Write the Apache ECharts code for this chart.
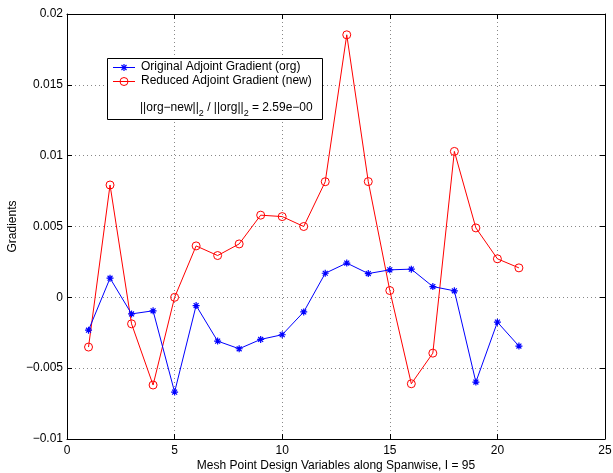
<!DOCTYPE html>
<html><head><meta charset="utf-8">
<script src="https://cdn.jsdelivr.net/npm/echarts@6/dist/echarts.min.js"></script>
<style>html,body{margin:0;padding:0;background:#fff}#c{width:613px;height:473px}</style>
</head><body><div id="c"></div>
<script>
const xIndex = [1,2,3,4,5,6,7,8,9,10,11,12,13,14,15,16,17,18,19,20,21];
const orgValues = [-0.00232,0.00135,-0.00117,-0.00095,-0.00669,-0.00058,-0.00309,-0.00363,-0.00297,-0.00264,-0.00103,0.00170,0.00242,0.00168,0.00194,0.00199,0.00076,0.00046,-0.00598,-0.00175,-0.00344];
const newValues = [-0.00351,0.00793,-0.00187,-0.00619,0.00000,0.00363,0.00295,0.00377,0.00580,0.00570,0.00500,0.00816,0.01853,0.00817,0.00048,-0.00610,-0.00394,0.01030,0.00490,0.00272,0.00208];
const yTickLabels = ['−0.01','−0.005','0','0.005','0.01','0.015','0.02'];
const xTickLabels = ['0','5','10','15','20','25'];
const seriesNames = ['Original Adjoint Gradient (org)','Reduced Adjoint Gradient (new)'];

const FONT = 'Liberation Sans, Arial, Helvetica, sans-serif';
const FS = 12;
const chart = echarts.init(document.getElementById('c'), null, {renderer:'canvas'});
const star = 'path://M0,5L10,5M5,0L5,10M1.5,1.5L8.5,8.5M1.5,8.5L8.5,1.5';
const gridLine = {show:true, lineStyle:{color:'#888', type:[1,3], width:1}};
const yLab = v => yTickLabels[Math.round((v + 0.01) / 0.005)];
const xLab = v => xTickLabels[Math.round(v / 5)];

function starGraphic(cx, cy, r, color){
  const d = r*0.72;
  const segs = [[-r,0,r,0],[0,-r,0,r],[-d,-d,d,d],[-d,d,d,-d]];
  return segs.map(s => ({type:'line', z:11, shape:{x1:cx+s[0], y1:cy+s[1], x2:cx+s[2], y2:cy+s[3]}, style:{stroke:color, lineWidth:1.2}}));
}
const legendGraphics = [
  {type:'rect', left:107, top:58, z:1, shape:{width:215, height:61}, style:{fill:'#fff', stroke:'#000', lineWidth:1}},
  {type:'line', z:10, shape:{x1:113, y1:67.5, x2:135, y2:67.5}, style:{stroke:'#0000ff', lineWidth:1}},
  ...starGraphic(124, 67.5, 3.5, '#0000ff'),
  {type:'text', z:10, x:141, y:67, style:{text:seriesNames[0], fontFamily:FONT, fontSize:FS, fill:'#000', verticalAlign:'middle'}},
  {type:'line', z:10, shape:{x1:113, y1:81.5, x2:135, y2:81.5}, style:{stroke:'#ff0000', lineWidth:1}},
  {type:'circle', z:11, shape:{cx:124, cy:81.5, r:4}, style:{fill:'none', stroke:'#ff0000', lineWidth:1}},
  {type:'text', z:10, x:141, y:81, style:{text:seriesNames[1], fontFamily:FONT, fontSize:FS, fill:'#000', verticalAlign:'middle'}},
  {type:'text', left:140, top:102, z:10, style:{
    text:'{n|||org−new||}{s|2}{n| / ||org||}{s|2}{n| = 2.59e−00}',
    rich:{
      n:{fontFamily:FONT, fontSize:FS, fill:'#000', lineHeight:15, verticalAlign:'top'},
      s:{fontFamily:FONT, fontSize:9, fill:'#000', lineHeight:15, padding:[7,0,0,0], verticalAlign:'top'}
    }
  }}
];

chart.setOption({
  animation:false,
  backgroundColor:'#fff',
  grid:{left:67, right:8, top:14, bottom:34, containLabel:false, outerBoundsMode:'none'},
  xAxis:[{
    type:'value', min:0, max:25, interval:5, position:'bottom',
    axisLine:{show:true, onZero:false, lineStyle:{color:'#000', width:1}},
    axisTick:{show:true, inside:true, length:5, lineStyle:{color:'#000'}},
    axisLabel:{color:'#000', fontFamily:FONT, fontSize:FS, margin:6, formatter:xLab},
    splitLine:gridLine,
    name:'Mesh Point Design Variables along Spanwise, I = 95', nameLocation:'middle', nameGap:21,
    nameMoveOverlap:false,
    nameTextStyle:{color:'#000', fontFamily:FONT, fontSize:FS}
  },{
    type:'value', min:0, max:25, interval:5, position:'top',
    axisLine:{show:true, onZero:false, lineStyle:{color:'#000', width:1}},
    axisTick:{show:true, inside:true, length:5, lineStyle:{color:'#000'}},
    axisLabel:{show:false}, splitLine:{show:false}
  }],
  yAxis:[{
    type:'value', min:-0.01, max:0.02, interval:0.005, position:'left',
    axisLine:{show:true, onZero:false, lineStyle:{color:'#000', width:1}},
    axisTick:{show:true, inside:true, length:5, lineStyle:{color:'#000'}},
    axisLabel:{color:'#000', fontFamily:FONT, fontSize:FS, margin:4, formatter:yLab},
    splitLine:gridLine,
    name:'Gradients', nameLocation:'middle', nameGap:48, nameRotate:90,
    nameMoveOverlap:false,
    nameTextStyle:{color:'#000', fontFamily:FONT, fontSize:FS}
  },{
    type:'value', min:-0.01, max:0.02, interval:0.005, position:'right',
    axisLine:{show:true, onZero:false, lineStyle:{color:'#000', width:1}},
    axisTick:{show:true, inside:true, length:5, lineStyle:{color:'#000'}},
    axisLabel:{show:false}, splitLine:{show:false}
  }],
  graphic:legendGraphics,
  series:[
    {name:seriesNames[0], type:'line', xAxisIndex:0, yAxisIndex:0,
     data:xIndex.map((x,i)=>[x, orgValues[i]]),
     symbol:star, symbolSize:7, showAllSymbol:true,
     lineStyle:{color:'#0000ff', width:1},
     itemStyle:{color:'#0000ff', borderColor:'#0000ff', borderWidth:1.2},
     z:5},
    {name:seriesNames[1], type:'line', xAxisIndex:0, yAxisIndex:0,
     data:xIndex.map((x,i)=>[x, newValues[i]]),
     symbol:'circle', symbolSize:8, showAllSymbol:true,
     lineStyle:{color:'#ff0000', width:1},
     itemStyle:{color:'rgba(0,0,0,0)', borderColor:'#ff0000', borderWidth:1},
     z:4}
  ]
});
</script></body></html>
